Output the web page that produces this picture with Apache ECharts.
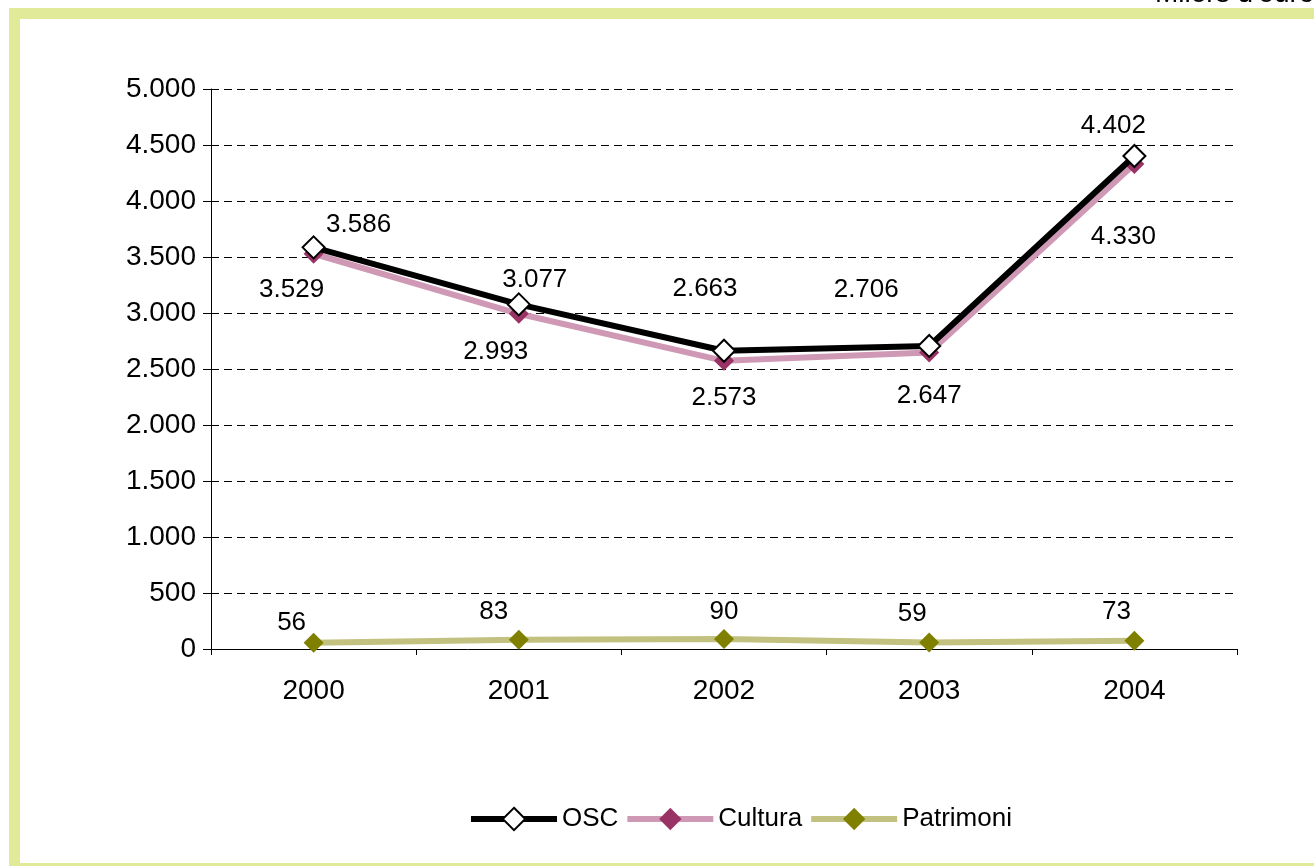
<!DOCTYPE html>
<html>
<head>
<meta charset="utf-8">
<script src="https://cdn.jsdelivr.net/npm/echarts@6/dist/echarts.min.js"></script>
<style>
html,body{margin:0;padding:0;background:#fff;}
#main{width:1314px;height:866px;}
</style>
</head>
<body>
<div id="main"></div>
<script>
const years = ['2000', '2001', '2002', '2003', '2004'];
const osc = [3586, 3077, 2663, 2706, 4402];
const cultura = [3529, 2993, 2573, 2647, 4330];
const patrimoni = [56, 83, 90, 59, 73];
const unitLabel = "Milers d'euros";

// label offsets (style only)
const oscOffsets = [[45, -23], [16, -25], [-19, -62], [-63, -56], [-21, -30]];
const culturaOffsets = [[-22, 36], [-23, 38], [0, 37], [0, 43], [-11, 73]];
const patrimoniOffsets = [[-22, -20], [-25, -28], [0, -27], [-17, -29], [-18, -29]];

const fmt = v => {
  const s = String(Math.round(v));
  return s.replace(/\B(?=(\d{3})+(?!\d))/g, '.');
};
const FONT = 'Liberation Sans, Arial, sans-serif';

function mk(values, offsets) {
  return values.map((v, i) => ({
    value: v,
    label: { offset: offsets[i] }
  }));
}

const chart = echarts.init(document.getElementById('main'), null, { renderer: 'canvas' });
chart.setOption({
  animation: false,
  backgroundColor: '#ffffff',
  textStyle: { fontFamily: FONT },
  grid: { left: 211, right: 77, top: 89, bottom: 217, containLabel: false },
  legend: {
    top: 801,
    left: 463,
    itemWidth: 86,
    itemHeight: 28,
    itemGap: 6,
    lineStyle: { width: 6 },
    textStyle: { fontSize: 26, color: '#000', fontFamily: FONT },
    data: ['OSC', 'Cultura', 'Patrimoni']
  },
  xAxis: {
    type: 'category',
    data: years,
    boundaryGap: true,
    axisLine: { lineStyle: { color: '#000', width: 1 } },
    axisTick: { show: true, length: 6, lineStyle: { color: '#000' } },
    axisLabel: { fontSize: 28, color: '#000', margin: 28, fontFamily: FONT },
    splitLine: { show: false }
  },
  yAxis: {
    type: 'value',
    min: 0,
    max: 5000,
    interval: 500,
    axisLine: { show: true, lineStyle: { color: '#000', width: 1 } },
    axisTick: { show: true, length: 8, lineStyle: { color: '#000' } },
    axisLabel: { fontSize: 28, color: '#000', margin: 15, fontFamily: FONT, formatter: fmt },
    splitLine: { show: true, lineStyle: { color: '#000', width: 1, type: [8, 5] } }
  },
  series: [
    {
      name: 'OSC',
      type: 'line',
      data: mk(osc, oscOffsets),
      symbol: 'diamond',
      symbolSize: 22,
      itemStyle: { color: '#ffffff', borderColor: '#000000', borderWidth: 2 },
      lineStyle: { color: '#000000', width: 6 },
      label: { show: true, position: 'inside', fontSize: 26, color: '#000', fontFamily: FONT, formatter: p => fmt(p.value) },
      z: 3
    },
    {
      name: 'Cultura',
      type: 'line',
      data: mk(cultura, culturaOffsets),
      symbol: 'diamond',
      symbolSize: 20,
      itemStyle: { color: '#993366' },
      lineStyle: { color: '#CF99B5', width: 6 },
      label: { show: true, position: 'inside', fontSize: 26, color: '#000', fontFamily: FONT, formatter: p => fmt(p.value) },
      z: 2
    },
    {
      name: 'Patrimoni',
      type: 'line',
      data: mk(patrimoni, patrimoniOffsets),
      symbol: 'diamond',
      symbolSize: 20,
      itemStyle: { color: '#808000' },
      lineStyle: { color: '#C2C17F', width: 6 },
      label: { show: true, position: 'inside', fontSize: 26, color: '#000', fontFamily: FONT, formatter: p => fmt(p.value) },
      z: 2
    }
  ],
  graphic: [
    { type: 'rect', shape: { x: 9, y: 8, width: 11, height: 858 }, style: { fill: '#E1EA98' }, silent: true },
    { type: 'rect', shape: { x: 9, y: 8, width: 1305, height: 11 }, style: { fill: '#E1EA98' }, silent: true },
    { type: 'rect', shape: { x: 9, y: 863, width: 1305, height: 3 }, style: { fill: '#E1EA98' }, silent: true },
    { type: 'text', x: 1155, y: 8, style: { text: unitLabel, fontSize: 28, fontFamily: FONT, fill: '#000', verticalAlign: 'bottom' }, silent: true }
  ]
});
</script>
</body>
</html>
